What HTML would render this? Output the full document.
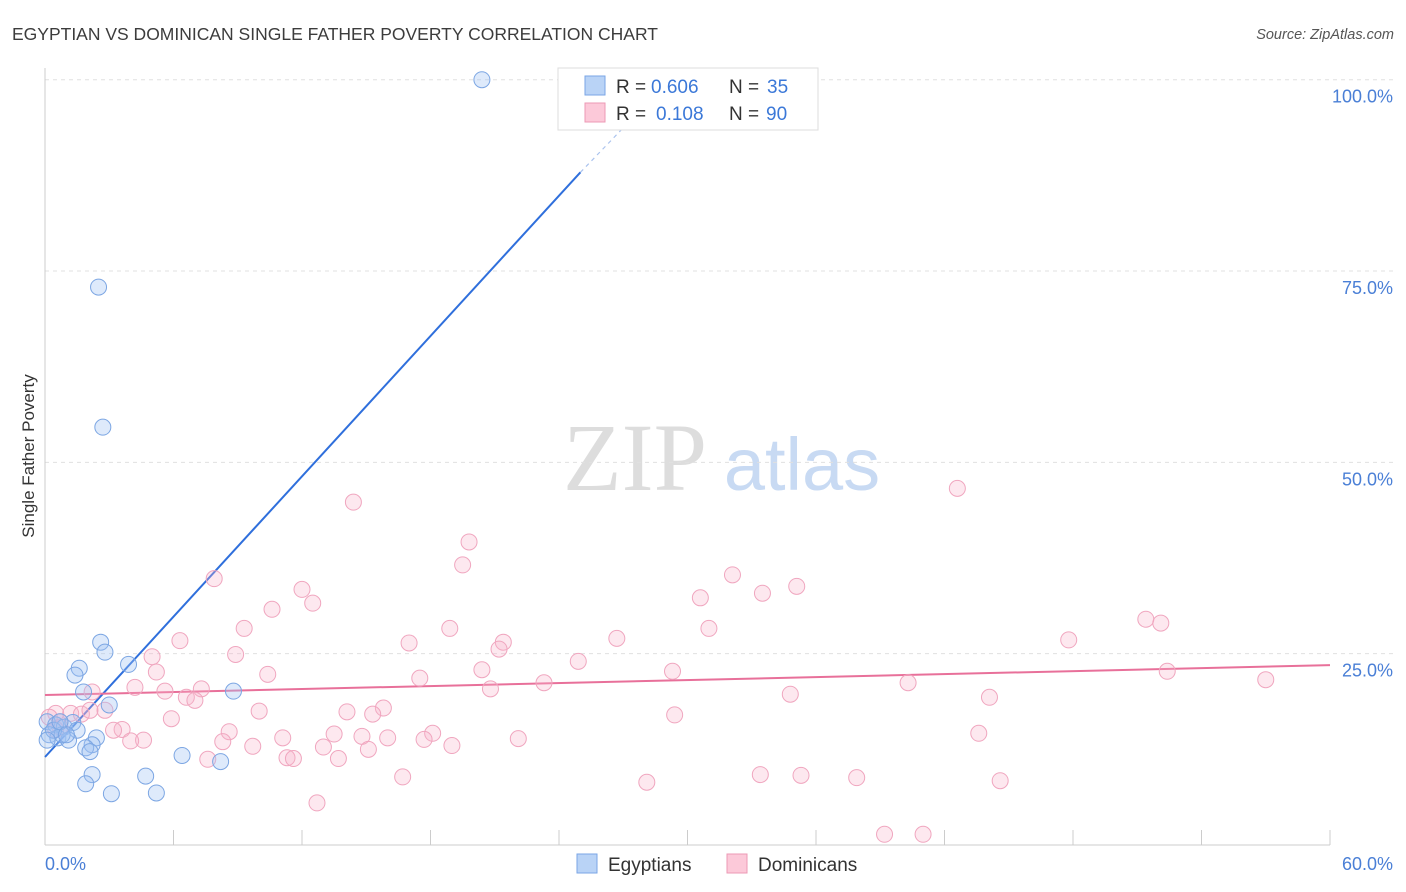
<!DOCTYPE html>
<html><head><meta charset="utf-8">
<style>
body{margin:0;background:#fff;font-family:"Liberation Sans",sans-serif;}
svg{display:block}
</style></head>
<body>
<svg id="chart" width="1406" height="892" xmlns="http://www.w3.org/2000/svg">
<text x="12" y="40" font-size="17.5" fill="#3c3c3c">EGYPTIAN VS DOMINICAN SINGLE FATHER POVERTY CORRELATION CHART</text>
<text x="1394" y="39" font-size="14.5" fill="#555" font-style="italic" text-anchor="end">Source: ZipAtlas.com</text>
<g>
<text x="635" y="490" font-size="96" fill="#ddd" font-family="Liberation Serif" text-anchor="middle">ZIP</text>
<text x="802" y="490" font-size="74" fill="#c8daf3" text-anchor="middle">atlas</text>
</g>
<g id="grid"></g>
<g id="axes"></g>
<g id="lines"></g>
<g id="pts"></g>
<text transform="translate(34,456) rotate(-90)" font-size="17" fill="#333" text-anchor="middle">Single Father Poverty</text>
<text x="45" y="870" font-size="18" fill="#4a7fd6">0.0%</text>
<text x="1393" y="870" font-size="18" fill="#4a7fd6" text-anchor="end">60.0%</text>
<g>
<rect x="558" y="68" width="260" height="62" fill="#fff" stroke="#ddd"/>
<rect x="585" y="76" width="20" height="19" fill="#b9d3f6" stroke="#7aa6e6"/>
<rect x="585" y="103" width="20" height="19" fill="#fcc9d9" stroke="#ec99b5"/>
<text x="616" y="93" font-size="19" fill="#333">R =</text>
<text x="651" y="93" font-size="19" fill="#3b78d8">0.606</text>
<text x="729" y="93" font-size="19" fill="#333">N =</text>
<text x="767" y="93" font-size="19" fill="#3b78d8">35</text>
<text x="616" y="120" font-size="19" fill="#333">R =</text>
<text x="656" y="120" font-size="19" fill="#3b78d8">0.108</text>
<text x="729" y="120" font-size="19" fill="#333">N =</text>
<text x="766" y="120" font-size="19" fill="#3b78d8">90</text>
</g>
<g>
<rect x="577" y="854" width="20" height="19" fill="#b9d3f6" stroke="#7aa6e6"/>
<text x="608" y="871" font-size="19" fill="#333">Egyptians</text>
<rect x="727" y="854" width="20" height="19" fill="#fcc9d9" stroke="#ec99b5"/>
<text x="758" y="871" font-size="19" fill="#333">Dominicans</text>
</g>
</svg>
<script>
const yTicks=[25,50,75,100];
const yTickLabels=["25.0%","50.0%","75.0%","100.0%"];
const xTicks=[0,6,12,18,24,30,36,42,48,54,60];
const egyX=[20.4,2.5,2.7,2.6,2.8,3.9,1.6,1.4,1.8,8.8,3.0,0.1,0.5,0.9,1.3,1.5,0.2,0.6,1.1,0.8,2.4,2.2,1.9,2.1,6.4,8.2,2.2,4.7,1.9,3.1,5.2,0.4,0.7,0.1,1.0];
const egyY=[100,72.9,54.6,26.5,25.2,23.6,23.1,22.2,20.0,20.1,18.3,16.1,15.7,15.4,16.0,15.0,14.4,14.0,13.7,14.4,14.0,13.1,12.7,12.2,11.7,10.9,9.2,9.0,8.0,6.7,6.8,15.0,16.1,13.7,14.4];
const domX=[14.4,42.6,19.8,19.5,7.9,32.1,35.1,12.0,12.5,10.6,30.6,33.5,51.4,52.1,9.3,18.9,31.0,6.3,17.0,26.7,21.4,47.8,21.2,8.9,5.0,24.9,5.2,10.4,20.4,29.3,52.4,57.0,17.5,23.3,40.3,4.2,5.6,7.3,2.2,20.8,6.6,7.0,34.8,44.1,2.8,0.5,1.2,1.7,10.0,14.1,15.8,15.3,5.9,0.7,3.6,8.6,29.4,43.6,22.1,3.2,14.8,4.6,8.3,18.1,13.5,11.1,16.0,17.7,4.0,9.7,13.0,19.0,15.1,11.3,11.6,13.7,7.6,16.7,33.4,35.3,37.9,44.6,28.1,12.7,39.2,41.0,0.2,0.7,2.1,0.5];
const domY=[44.8,46.6,39.6,36.6,34.8,35.3,33.8,33.4,31.6,30.8,32.3,32.9,29.5,29.0,28.3,28.3,28.3,26.7,26.4,27.0,26.5,26.8,25.6,24.9,24.6,24.0,22.6,22.3,22.9,22.7,22.7,21.6,21.8,21.2,21.2,20.6,20.1,20.4,20.0,20.4,19.3,18.9,19.7,19.3,17.6,17.2,17.2,17.1,17.5,17.4,17.9,17.1,16.5,15.4,15.1,14.8,17.0,14.6,13.9,15.0,14.2,13.7,13.5,14.6,14.5,14.0,14.0,13.8,13.6,12.9,12.8,13.0,12.5,11.4,11.3,11.3,11.2,8.9,9.2,9.1,8.8,8.4,8.2,5.5,1.4,1.4,16.7,16.1,17.6,15.1];
const egyLine=[11.5,87.9], egyLineEnd=25.0, egyDashEnd=27.1, egyDashY=94.0;
const domLine=[19.6,23.5];
const NS="http://www.w3.org/2000/svg";
const X=v=>45+v*1285/60, Y=v=>845-v*7.653;
function mk(t,a,p){const e=document.createElementNS(NS,t);for(const k in a)e.setAttribute(k,a[k]);p.appendChild(e);return e;}
const grid=document.getElementById('grid'),axes=document.getElementById('axes'),lines=document.getElementById('lines'),pts=document.getElementById('pts');
yTicks.forEach((t,i)=>{
 const l=mk('line',{x1:45,x2:1394,y1:Y(t),y2:Y(t),stroke:'#e0e0e0','stroke-dasharray':'4,4'},grid);
 
 
 const tx=mk('text',{x:1393,y:Y(t)+23,'font-size':18,fill:'#4a7fd6','text-anchor':'end'},grid);
 tx.textContent=yTickLabels[i];
 
 
});
const ya=mk('line',{x1:45,x2:45,y1:68,y2:845,stroke:'#ccc'},axes);


const xa=mk('line',{x1:45,x2:1330,y1:845,y2:845,stroke:'#ccc'},axes);


xTicks.forEach(t=>{
 const l=mk('line',{x1:X(t),x2:X(t),y1:830,y2:845,stroke:'#ccc'},axes);
 
 
});
let l1=mk('line',{x1:X(0),y1:Y(egyLine[0]),x2:X(egyLineEnd),y2:Y(egyLine[1]),stroke:'#2f6fdc','stroke-width':2},lines);


let l2=mk('line',{x1:X(egyLineEnd),y1:Y(egyLine[1]),x2:X(egyDashEnd),y2:Y(egyDashY),stroke:'#aac3ee','stroke-width':1.2,'stroke-dasharray':'4,4'},lines);


let l3=mk('line',{x1:X(0),y1:Y(domLine[0]),x2:X(60),y2:Y(domLine[1]),stroke:'#e8709a','stroke-width':2},lines);


domX.forEach((x,i)=>{
 const c=mk('circle',{cx:X(x),cy:Y(domY[i]),r:8,fill:'rgba(248,180,202,0.3)',stroke:'#f0a6bf','stroke-width':1},pts);
 
 
});
egyX.forEach((x,i)=>{
 const c=mk('circle',{cx:X(x),cy:Y(egyY[i]),r:8,fill:'rgba(160,196,244,0.35)',stroke:'#7ca6e3','stroke-width':1},pts);
 
 
});
</script>
</body></html>
